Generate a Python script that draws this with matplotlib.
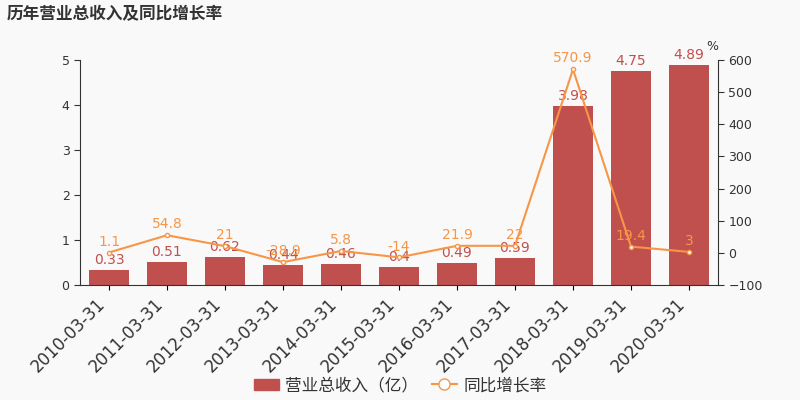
import matplotlib.pyplot as plt
from matplotlib.lines import Line2D
from matplotlib.patches import Patch

plt.rcParams['font.family'] = ['DejaVu Sans', 'Noto Sans CJK SC']

dates = ['2010-03-31', '2011-03-31', '2012-03-31', '2013-03-31', '2014-03-31', '2015-03-31',
         '2016-03-31', '2017-03-31', '2018-03-31', '2019-03-31', '2020-03-31']
revenue = [0.33, 0.51, 0.62, 0.44, 0.46, 0.4, 0.49, 0.59, 3.98, 4.75, 4.89]
growth = [1.1, 54.8, 21, -28.9, 5.8, -14, 21.9, 22, 570.9, 19.4, 3]
rev_labels = ['0.33', '0.51', '0.62', '0.44', '0.46', '0.4', '0.49', '0.59', '3.98', '4.75', '4.89']
growth_labels = ['1.1', '54.8', '21', '-28.9', '5.8', '-14', '21.9', '22', '570.9', '19.4', '3']

bar_color = '#c0504d'
line_color = '#f79646'
bg = '#f9f9f9'

fig = plt.figure(figsize=(8, 4), dpi=100, facecolor=bg)
ax = fig.add_axes([0.1, 0.2875, 0.7975, 0.5625], facecolor=bg)
x = list(range(len(dates)))
ax.bar(x, revenue, width=0.7, color=bar_color, zorder=2)
for i, v in enumerate(revenue):
    ax.text(i, v + 0.07, rev_labels[i], ha='center', va='bottom', color=bar_color, fontsize=10)
ax.set_ylim(0, 5)
ax.set_xlim(-0.5, len(dates) - 0.5)
ax.set_xticks(x)
ax.set_xticklabels(dates, rotation=45, ha='right', fontsize=12, color='#333333')
ax.tick_params(axis='y', labelsize=9, colors='#333333', length=4)
for s in ['top', 'right']:
    ax.spines[s].set_visible(False)
for s in ['left', 'bottom']:
    ax.spines[s].set_color('#333333')

ax2 = ax.twinx()
ax2.plot(x, growth, color=line_color, linewidth=1.5, marker='o', markersize=3,
         markerfacecolor='white', markeredgecolor=line_color, zorder=3)
for i, v in enumerate(growth):
    ax2.text(i, v + 12, growth_labels[i], ha='center', va='bottom', color=line_color, fontsize=10)
ax2.set_ylim(-100, 600)
ax2.set_yticks(range(-100, 601, 100))
ax2.tick_params(axis='y', labelsize=9, colors='#333333', length=4)
for s in ['top', 'left', 'bottom']:
    ax2.spines[s].set_visible(False)
ax2.spines['right'].set_color('#333333')
ax2.text(1.0, 1.03, '%', transform=ax2.transAxes, ha='right', va='bottom', fontsize=9, color='#333333')

fig.text(0.008, 0.965, '历年营业总收入及同比增长率', fontsize=12, fontweight='bold',
         color='#333333', ha='left', va='center')

handles = [Patch(color=bar_color),
           Line2D([0], [0], color=line_color, marker='o', markerfacecolor='white', markersize=8)]
fig.legend(handles, ['营业总收入（亿）', '同比增长率'], loc='center', bbox_to_anchor=(0.5, 0.037),
           ncol=2, frameon=False, fontsize=12, handlelength=1.5, handletextpad=0.4,
           columnspacing=0.8, labelcolor='#333333')

fig.savefig('out.png', dpi=100, facecolor=bg)
